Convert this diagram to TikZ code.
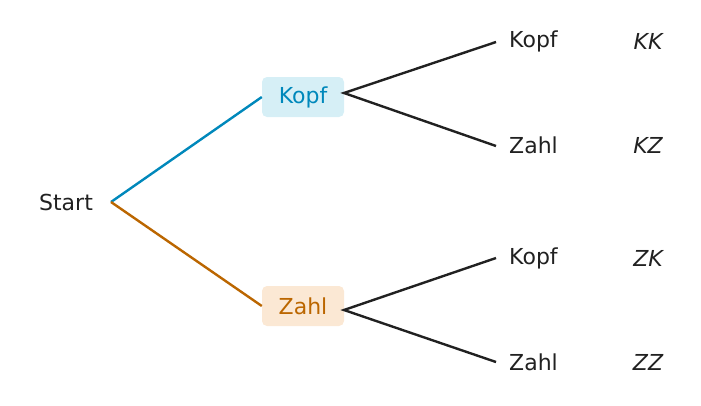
\documentclass[tikz,border=0pt]{standalone}
\usepackage{fontspec}
\setmainfont{DejaVu Sans}
\begin{document}
\begin{tikzpicture}[x=1pt,y=-1pt,
  txt/.style={font=\fontsize{22}{24}\selectfont, text=black!87, inner sep=0pt},
  leaf/.style={txt, anchor=west},
  res/.style={txt, font=\fontsize{22}{24}\selectfont\itshape},
  box/.style={font=\fontsize{22}{24}\selectfont, rounded corners=5pt, minimum width=82pt, minimum height=40pt, inner sep=0pt},
  ln/.style={line width=2.4pt}]
\definecolor{kb}{HTML}{0088BB}\definecolor{zb}{HTML}{BB6600}
\definecolor{kf}{HTML}{D6EFF6}\definecolor{zf}{HTML}{FBE8D4}
\useasboundingbox (0,0) rectangle (701,405);
\node[txt] (s) at (66,202) {Start};
\coordinate (sr) at (111,202);
\node[box, fill=kf, text=kb] (k) at (303,97) {Kopf};
\node[box, fill=zf, text=zb] (z) at (303,306) {Zahl};
\coordinate (ko) at (344,93);
\coordinate (zo) at (344,310);
\node[leaf] (kk) at (509,41) {Kopf};
\node[leaf] (kz) at (509,145) {Zahl};
\node[leaf] (zk) at (509,258) {Kopf};
\node[leaf] (zz) at (509,362) {Zahl};
\coordinate (a1) at (496,42);\coordinate (a2) at (496,146);
\coordinate (a3) at (496,258);\coordinate (a4) at (496,362);
\node[res] (r1) at (648,41) {KK};
\node[res] (r2) at (648,145) {KZ};
\node[res] (r3) at (648,258) {ZK};
\node[res] (r4) at (648,362) {ZZ};
\draw[ln, kb] (sr) -- (k.west);
\draw[ln, zb] (sr) -- (z.west);
\draw[ln, black!87] (a1) -- (ko) -- (a2);
\draw[ln, black!87] (a3) -- (zo) -- (a4);
\end{tikzpicture}
\end{document}
